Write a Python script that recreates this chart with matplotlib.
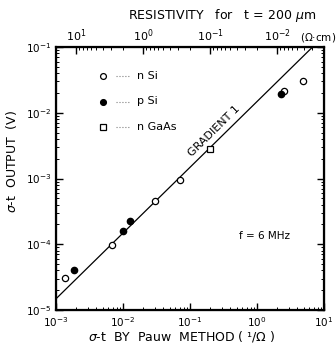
import matplotlib
matplotlib.use("Agg")
import matplotlib.pyplot as plt
import numpy as np
from matplotlib.ticker import LogLocator, NullFormatter, FixedLocator
import matplotlib.transforms as mtransforms

# data (sigma*t by Pauw method [1/Ohm], sigma*t output [V])
nSi_x = [1.36e-3, 6.9e-3, 0.030, 0.071, 2.53, 4.87]
nSi_y = [3.1e-5, 9.8e-5, 4.55e-4, 9.5e-4, 0.0214, 0.030]
pSi_x = [1.86e-3, 1.0e-2, 1.27e-2, 2.28]
pSi_y = [4.1e-5, 1.6e-4, 2.26e-4, 0.0193]
nGaAs_x = [0.199]
nGaAs_y = [2.8e-3]
grad_x = [1e-3, 10]
grad_coef = 0.0148
thickness_cm = 0.02
rho_major = [10, 1, 0.1, 0.01]
rho_labels = [r"$10^1$", r"$10^0$", r"$10^{-1}$", r"$10^{-2}$"]

plt.rcParams['font.family'] = ['DejaVu Sans']
fig = plt.figure(figsize=(3.36, 3.51), dpi=100)
ax = fig.add_axes([56/336, 1-310/351, 268/336, 263/351])
ax.set_xscale('log'); ax.set_yscale('log')
ax.set_xlim(1e-3, 10); ax.set_ylim(1e-5, 1e-1)

gx = np.array(grad_x)
ax.plot(gx, grad_coef*gx, color='black', lw=0.9)
ax.plot(nSi_x, nSi_y, 'o', mfc='white', mec='black', ms=4.5, mew=0.9, ls='none')
ax.plot(pSi_x, pSi_y, 'o', mfc='black', mec='black', ms=4.5, ls='none')
ax.plot(nGaAs_x, nGaAs_y, 's', mfc='white', mec='black', ms=4.2, mew=0.9, ls='none')

# legend drawn manually in axes coords
leg = [('o', 'white', 'n Si'), ('o', 'black', 'p Si'), ('s', 'white', 'n GaAs')]
for i, (m, fc, lab) in enumerate(leg):
    yy = 1 - (76 + i*25.5 - 47)/263
    ax.plot([(103-56)/268], [yy], m, mfc=fc, mec='black', ms=4.2, mew=0.9, transform=ax.transAxes, clip_on=False)
    ax.plot([(116-56)/268, (130-56)/268], [yy, yy], ls=':', color='gray', lw=0.8, transform=ax.transAxes)
    ax.text((137-56)/268, yy, lab, transform=ax.transAxes, fontsize=8, va='center', ha='left')

gx0 = 0.285
off = mtransforms.offset_copy(ax.transData, fig=fig, x=-2.5, y=2.5, units='dots')
ax.text(gx0, grad_coef*gx0, 'GRADIENT 1', rotation=44.5, fontsize=8,
        ha='center', va='bottom', rotation_mode='anchor', transform=off)
ax.text(1.3, 1.35e-4, 'f = 6 MHz', fontsize=7.5, ha='center', va='center')

for s in ax.spines.values():
    s.set_linewidth(1.6)
ax.tick_params(which='both', direction='in', top=False, right=True, labelsize=7.5)
ax.tick_params(which='major', length=5, width=1)
ax.tick_params(which='minor', length=2.5, width=0.7)
ax.xaxis.set_major_locator(LogLocator(base=10, numticks=10))
ax.xaxis.set_minor_locator(LogLocator(base=10, subs=np.arange(2, 10), numticks=20))
ax.yaxis.set_minor_locator(LogLocator(base=10, subs=np.arange(2, 10), numticks=20))
ax.xaxis.set_minor_formatter(NullFormatter())
ax.yaxis.set_minor_formatter(NullFormatter())
ax.tick_params(axis='x', pad=4)

fig.text(182/336, 1-336/351, r'$\sigma$-t  BY  Pauw  METHOD ( ¹/$\Omega$ )', fontsize=9, ha='center', va='center')
fig.text(12/336, 1-162/351, r'$\sigma$-t  OUTPUT  (V)', fontsize=9, ha='center', va='center', rotation=90)

# top resistivity axis
top = ax.twiny()
top.set_xscale('log'); top.set_xlim(ax.get_xlim())
top.xaxis.set_major_locator(FixedLocator([thickness_cm/r for r in rho_major]))
top.set_xticklabels(rho_labels)
minor = [thickness_cm/(d*k) for d in [0.001, 0.01, 0.1, 1, 10] for k in range(2, 10)]
minor = [m for m in minor if 1e-3 < m < 10]
top.xaxis.set_minor_locator(FixedLocator(minor))
top.xaxis.set_minor_formatter(NullFormatter())
top.tick_params(which='both', direction='in', labelsize=8, pad=2)
top.tick_params(which='major', length=5, width=1)
top.tick_params(which='minor', length=2.5, width=0.7)
fig.text(300/336, 1-38/351, r'($\Omega$·cm)', fontsize=7.5, ha='left', va='center')
fig.text(222/336, 1-16/351, r'RESISTIVITY   for   t = 200 $\mu$m', fontsize=9, ha='center', va='center')

fig.savefig('out.png', dpi=100)
